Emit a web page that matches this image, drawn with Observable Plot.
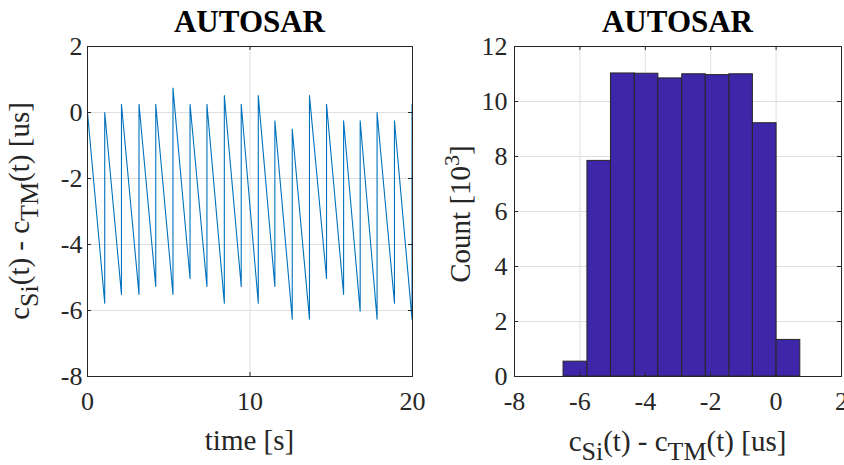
<!DOCTYPE html>
<html>
<head>
<meta charset="utf-8">
<script src="https://cdn.jsdelivr.net/npm/d3@7"></script>
<script src="https://cdn.jsdelivr.net/npm/@observablehq/plot@0.6"></script>
<style>
  body { margin: 0; background: #fff; }
  #wrap { display: flex; width: 844px; height: 465px; overflow: hidden; background: #fff; }
  #wrap svg { display: block; flex: none; }
  #wrap svg text { font-family: 'Liberation Serif', 'Times New Roman', Times, serif !important; white-space: pre; }
</style>
</head>
<body>
<div id="wrap"></div>
<script>
// ---- data ----------------------------------------------------------------
const panelTitle = "AUTOSAR";

// Clock offset trace: value at t = 0, then for every resynchronisation the
// time (s), the value just before it and the value just after it (us).
const startTime = 0;
const startValue = 0;
const resetTimes   = [1.06, 2.09, 3.17, 4.20, 5.26, 6.31, 7.35, 8.42, 9.46, 10.51,
                      11.53, 12.60, 13.66, 14.71, 15.76, 16.78, 17.82, 18.89, 19.97];
const troughValues = [-5.78, -5.51, -5.51, -5.27, -5.51, -5.03, -5.27, -5.78, -5.27, -5.78,
                      -5.27, -6.26, -6.26, -5.03, -5.51, -6.02, -6.26, -5.78, -6.26];
const peakValues   = [0.00, 0.25, 0.25, 0.25, 0.74, 0.25, 0.25, 0.51, 0.25, 0.51,
                      -0.25, -0.50, 0.51, 0.25, -0.25, -0.25, 0.00, -0.25, 0.25];
const timeTicks   = [0, 10, 20];
const offsetTicks = [-8, -6, -4, -2, 0, 2];

// Histogram of the offset: bin edges (us) and counts (thousands)
const binEdges  = [-6.50, -5.77, -5.05, -4.32, -3.60, -2.87, -2.15, -1.43, -0.71, 0.015, 0.74];
const binCounts = [0.54, 7.84, 11.02, 11.01, 10.84, 10.99, 10.96, 10.99, 9.21, 1.33];
const diffTicks  = [-8, -6, -4, -2, 0, 2];
const countTicks = [0, 2, 4, 6, 8, 10, 12];

// ---- shared styling --------------------------------------------------------
const serif = "'Liberation Serif', 'Times New Roman', Times, serif";
const ink = "#262626";
const gridColor = "#dfdfdf";
const tickLen = 4;
const fmt = d => String(d);
const tickText = {fontFamily: serif, fontSize: 26, fill: ink, label: null, tickSize: 0, tickFormat: fmt};

const trace = [{t: startTime, v: startValue}];
resetTimes.forEach((t, i) => {
  trace.push({t, v: troughValues[i]});
  trace.push({t, v: peakValues[i]});
});

const bins = binCounts.map((c, i) => ({x1: binEdges[i], x2: binEdges[i + 1], count: c}));

// Box with inward ticks on all four sides
function boxTicks(xt, yt, plotW, plotH) {
  return [
    Plot.ruleX(xt, {x: d => d, insetTop: plotH - tickLen, stroke: ink}),
    Plot.ruleX(xt, {x: d => d, insetBottom: plotH - tickLen, stroke: ink}),
    Plot.ruleY(yt, {y: d => d, insetRight: plotW - tickLen, stroke: ink}),
    Plot.ruleY(yt, {y: d => d, insetLeft: plotW - tickLen, stroke: ink}),
    Plot.frame({stroke: ink, strokeWidth: 1})
  ];
}

const W = 422, H = 465, mTop = 46, mBottom = 89;
const plotH = H - mTop - mBottom;
const svgStyle = {fontFamily: serif, fontSize: "26px", color: ink, background: "transparent", overflow: "visible"};

// ---- left panel: offset over time ---------------------------------------------
const lm = {left: 87, right: 10};
const leftSvg = Plot.plot({
  width: W, height: H,
  marginLeft: lm.left, marginRight: lm.right, marginTop: mTop, marginBottom: mBottom,
  style: svgStyle,
  x: {domain: [0, 20]},
  y: {domain: [-8, 2]},
  marks: [
    Plot.gridX(timeTicks, {stroke: gridColor, strokeOpacity: 1}),
    Plot.gridY(offsetTicks, {stroke: gridColor, strokeOpacity: 1}),
    Plot.line(trace, {x: "t", y: "v", stroke: "#0072BD", strokeWidth: 1.1}),
    Plot.axisX(timeTicks, {...tickText, anchor: "bottom", tickPadding: 15}),
    Plot.axisY(offsetTicks, {...tickText, anchor: "left", tickPadding: 5}),
    ...boxTicks(timeTicks, offsetTicks, W - lm.left - lm.right, plotH)
  ]
});

// ---- right panel: histogram -------------------------------------------------
const rm = {left: 92, right: 3};
const rightSvg = Plot.plot({
  width: W, height: H,
  marginLeft: rm.left, marginRight: rm.right, marginTop: mTop, marginBottom: mBottom,
  style: svgStyle,
  x: {domain: [-8, 2]},
  y: {domain: [0, 12]},
  marks: [
    Plot.gridX(diffTicks, {stroke: gridColor, strokeOpacity: 1}),
    Plot.gridY(countTicks, {stroke: gridColor, strokeOpacity: 1}),
    Plot.rectY(bins, {x1: "x1", x2: "x2", y: "count", fill: "#3E26A8", stroke: ink, strokeWidth: 1}),
    Plot.axisX(diffTicks, {...tickText, anchor: "bottom", tickPadding: 15}),
    Plot.axisY(countTicks, {...tickText, anchor: "left", tickPadding: 7}),
    ...boxTicks(diffTicks, countTicks, W - rm.left - rm.right, plotH)
  ]
});

const wrap = document.getElementById("wrap");
wrap.appendChild(leftSvg);
wrap.appendChild(rightSvg);

// ---- titles and axis labels (with sub/superscripts) -------------------------
function title(svg, cx) {
  d3.select(svg).append("text")
    .attr("x", cx).attr("y", 32).attr("text-anchor", "middle")
    .style("font-size", "31px").style("font-weight", "bold")
    .attr("fill", "#000").text(panelTitle);
}

function offsetLabel(sel, shift) {
  sel.style("font-size", "29px").attr("fill", ink).attr("text-anchor", "middle");
  sel.append("tspan").text("c");
  sel.append("tspan").attr("dy", shift).style("font-size", "26px").text("Si");
  sel.append("tspan").attr("dy", -shift).text("(t) - c");
  sel.append("tspan").attr("dy", shift).style("font-size", "26px").text("TM");
  sel.append("tspan").attr("dy", -shift).text("(t) [us]");
}

const plotCxL = lm.left + (W - lm.left - lm.right) / 2;
const plotCxR = rm.left + (W - rm.left - rm.right) / 2;
const plotCy = mTop + plotH / 2;

title(leftSvg, plotCxL);
title(rightSvg, plotCxR);

d3.select(leftSvg).append("text")
  .attr("x", plotCxL).attr("y", 450).attr("text-anchor", "middle")
  .style("font-size", "29px").attr("fill", ink)
  .text("time [s]");

offsetLabel(d3.select(leftSvg).append("text")
  .attr("transform", `translate(29,${plotCy}) rotate(-90)`), 9);

offsetLabel(d3.select(rightSvg).append("text")
  .attr("x", plotCxR).attr("y", 451), 9);

const cl = d3.select(rightSvg).append("text")
  .attr("transform", `translate(48,${plotCy + 3}) rotate(-90)`)
  .attr("text-anchor", "middle")
  .style("font-size", "29px").attr("fill", ink);
cl.append("tspan").text("Count [10");
cl.append("tspan").attr("dy", -11).style("font-size", "22px").text("3");
cl.append("tspan").attr("dy", 11).text("]");
</script>
</body>
</html>
